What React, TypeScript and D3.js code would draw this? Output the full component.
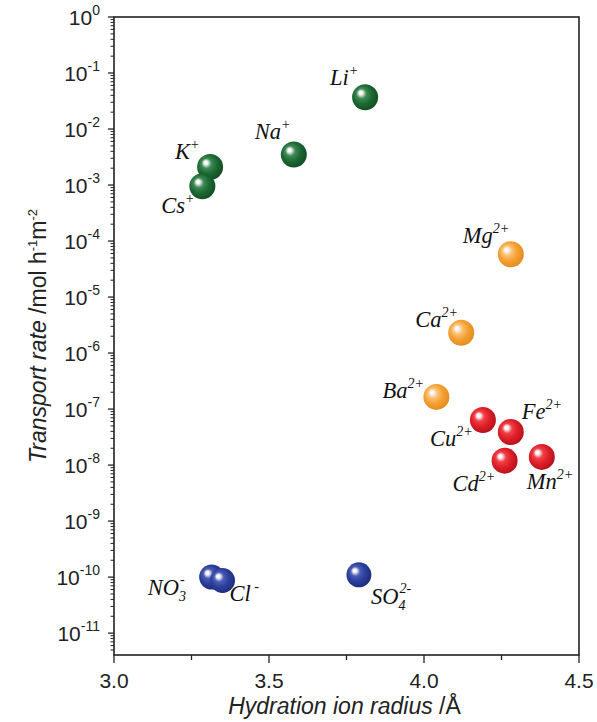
import * as d3 from "d3";

// ion name, sub/superscript parts, group
const ions = ["Li", "Na", "K", "Cs", "Mg", "Ca", "Ba", "Cu", "Fe", "Cd", "Mn", "NO", "Cl", "SO"];
const ionSub = ["", "", "", "", "", "", "", "", "", "", "", "3", "", "4"];
const ionCharge = ["+", "+", "+", "+", "2+", "2+", "2+", "2+", "2+", "2+", "2+", "-", " -", "2-"];
const groups = ["mono", "mono", "mono", "mono", "alk", "alk", "alk", "tm", "tm", "tm", "tm", "an", "an", "an"];
// hydration ion radius (Å)
const radius = [3.81, 3.58, 3.31, 3.285, 4.28, 4.12, 4.04, 4.19, 4.28, 4.26, 4.38, 3.315, 3.35, 3.79];
// transport rate (mol h-1 m-2)
const rate = [0.037, 0.0035, 0.0021, 0.00095, 5.8e-5, 2.3e-6, 1.65e-7, 6.4e-8, 3.9e-8, 1.2e-8, 1.4e-8, 1.0e-10, 8.7e-11, 1.1e-10];

const xTicks = [3.0, 3.5, 4.0, 4.5];
const xMinor = [3.25, 3.75, 4.25];
const yExponents = [0, -1, -2, -3, -4, -5, -6, -7, -8, -9, -10, -11];

// label offsets from ball centre (text start, baseline)
const labelOffset: Record<string, [number, number]> = {
  Li: [-35, -12], Na: [-39, -16], K: [-35, -8], Cs: [-41, 27],
  Mg: [-48, -11], Ca: [-46, -6], Ba: [-54, 1], Cu: [-53, 26],
  Fe: [11, -13], Cd: [-52, 30], Mn: [-15, 32], NO: [-64, 18],
  Cl: [7, 20], SO: [12, 29],
};

const palette: Record<string, [string, string, string]> = {
  mono: ["#3f8a55", "#1d6a35", "#104a22"],
  alk: ["#fbc070", "#f5a033", "#e08a1c"],
  tm: ["#f04048", "#e01f28", "#b01018"],
  an: ["#4a5cb8", "#2c3f9c", "#1a2a78"],
};

const W = 597, H = 722;
const left = 114, right = 579, top = 17, bottom = 655;

export default function App() {
  const x = d3.scaleLinear().domain([3.0, 4.5]).range([left, right]);
  const y = d3.scaleLog().domain([4.07e-12, 1]).range([bottom, top]);
  const [y0, y1] = y.domain();

  const minorY: number[] = [];
  for (let e = -12; e < 0; e++) {
    for (let k = 2; k <= 9; k++) {
      const v = k * Math.pow(10, e);
      if (v >= y0 && v <= y1) minorY.push(v);
    }
  }

  const idx = d3.range(ions.length);
  const serif = "'Liberation Serif', 'Times New Roman', serif";
  const sans = "'Liberation Sans', Arial, sans-serif";

  return (
    <svg width={W} height={H} style={{ position: "absolute", left: 0, top: 0, background: "#fff" }}>
      <defs>
        {Object.entries(palette).map(([k, c]) => (
          <radialGradient key={k} id={`ball-${k}`} cx="45%" cy="45%" r="60%" fx="32%" fy="32%">
            <stop offset="0%" stopColor="#ffffff" />
            <stop offset="12%" stopColor="#f4f4f4" />
            <stop offset="32%" stopColor={c[0]} />
            <stop offset="60%" stopColor={c[1]} />
            <stop offset="100%" stopColor={c[2]} />
          </radialGradient>
        ))}
      </defs>

      {/* frame */}
      <rect x={left} y={top} width={right - left} height={bottom - top} fill="none" stroke="#222" strokeWidth={1.6} />

      {/* y axis ticks */}
      <g stroke="#222" strokeWidth={1.3}>
        {yExponents.map((e) => (
          <line key={e} x1={left - 6} x2={left} y1={y(Math.pow(10, e))} y2={y(Math.pow(10, e))} />
        ))}
        {minorY.map((v, i) => (
          <line key={i} x1={left - 3.5} x2={left} y1={y(v)} y2={y(v)} strokeWidth={1} />
        ))}
      </g>
      <g fontFamily={sans} fill="#222">
        {yExponents.map((e) => (
          <text key={e} x={left - 14} y={y(Math.pow(10, e)) + 8} textAnchor="end" fontSize={21}>
            10
            <tspan fontSize={14} dy={-10}>{e === 0 ? "0" : `-${-e}`}</tspan>
          </text>
        ))}
      </g>

      {/* x axis ticks */}
      <g stroke="#222" strokeWidth={1.3}>
        {xTicks.map((t) => (
          <line key={t} x1={x(t)} x2={x(t)} y1={bottom} y2={bottom + 8} />
        ))}
        {xMinor.map((t) => (
          <line key={t} x1={x(t)} x2={x(t)} y1={bottom} y2={bottom + 5} />
        ))}
      </g>
      <g fontFamily={sans} fill="#222" fontSize={21} textAnchor="middle">
        {xTicks.map((t) => (
          <text key={t} x={x(t)} y={bottom + 33}>{d3.format(".1f")(t)}</text>
        ))}
      </g>

      {/* axis titles */}
      <text x={(left + right) / 2 - 2} y={714} textAnchor="middle" fontFamily={sans} fontSize={23} fill="#222">
        <tspan fontStyle="italic">Hydration ion radius </tspan>/Å
      </text>
      <text
        transform={`translate(46, ${(top + bottom) / 2}) rotate(-90)`}
        textAnchor="middle"
        fontFamily={sans}
        fontSize={23}
        fill="#222"
      >
        <tspan fontStyle="italic">Transport rate </tspan>/mol h
        <tspan fontSize={13} dy={-9}>-1</tspan>
        <tspan dy={9}>m</tspan>
        <tspan fontSize={13} dy={-9}>-2</tspan>
      </text>

      {/* balls */}
      <g>
        {idx.map((i) => (
          <circle
            key={ions[i]}
            cx={x(radius[i])}
            cy={y(rate[i])}
            r={groups[i] === "an" ? 12.5 : 13}
            fill={`url(#ball-${groups[i]})`}
          />
        ))}
      </g>

      {/* ion labels */}
      <g fontFamily={serif} fontStyle="italic" fill="#111" fontSize={22.5}>
        {idx.map((i) => {
          const [dx, dy] = labelOffset[ions[i]];
          const px = x(radius[i]) + dx;
          const py = y(rate[i]) + dy;
          return (
            <text key={ions[i]} x={px} y={py}>
              {ions[i]}
              {ionSub[i] ? (
                <>
                  <tspan fontSize={14} dy={6}>{ionSub[i]}</tspan>
                  <tspan fontSize={14} dx={-6} dy={-17}>{ionCharge[i]}</tspan>
                </>
              ) : (
                <tspan fontSize={14} dy={-10}>{ionCharge[i]}</tspan>
              )}
            </text>
          );
        })}
      </g>
    </svg>
  );
}
